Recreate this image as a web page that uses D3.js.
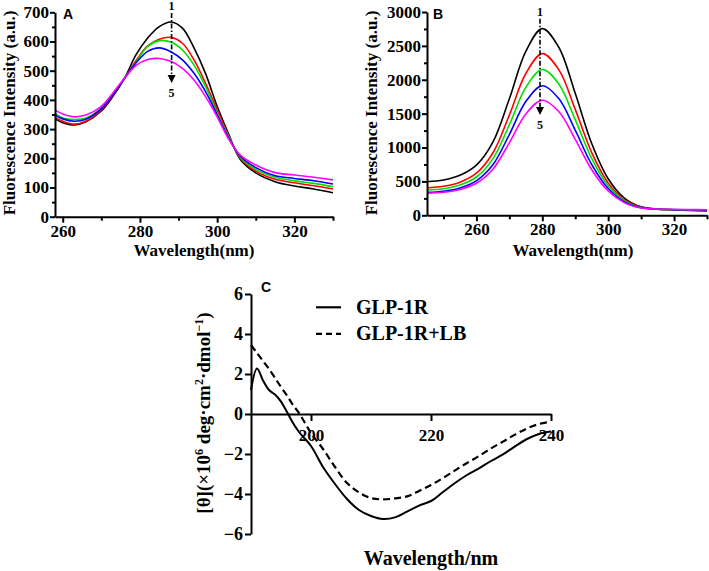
<!DOCTYPE html>
<html><head><meta charset="utf-8">
<script src="https://cdn.jsdelivr.net/npm/d3@7"></script>
<style>body{margin:0;background:#fff}svg{display:block}</style>
</head><body>
<svg id="chart" width="709" height="571"></svg>
<script>
// ---------- Panel A data ----------
const waveA = [258,260,263,266,270,273,276,279,282,285,288,291,294,297,300,303,306,310,315,320,325,330];
const a1 = [335,322,314,325,362,412,474,555,612,651,667,646,578,490,378,282,196,150,120,105,95,82];
const a2 = [340,327,317,327,366,416,474,535,585,608,614,594,537,457,366,277,200,156,128,116,106,95];
const a3 = [355,338,333,338,372,420,474,530,583,603,598,571,519,445,355,273,204,162,135,123,114,103];
const a4 = [348,335,327,334,370,418,474,527,566,578,565,537,491,428,349,269,207,168,140,131,123,112];
const a5 = [365,352,342,348,378,424,474,518,538,542,532,508,468,411,342,265,211,177,151,143,135,126];
const xTicksA = [260,280,300,320];
const xMinorA = [270,290,310,330];
const yTicksA = [0,100,200,300,400,500,600,700];
const yMinorA = [50,150,250,350,450,550,650];

// ---------- Panel B data ----------
const waveB = [245,250,255,260,265,270,275,280,285,290,295,300,305,310,315,320,325,330];
const b1 = [496,520,590,740,1080,1720,2420,2755,2480,1800,1060,540,250,125,92,80,72,66];
const b2 = [407,428,489,621,919,1479,2092,2386,2149,1563,925,477,227,119,91,82,78,75];
const b3 = [373,392,447,565,833,1336,1887,2151,1938,1411,839,436,212,115,90,83,80,78];
const b4 = [339,356,404,509,745,1191,1678,1911,1722,1256,750,395,196,111,90,84,82,80];
const b5 = [325,340,382,473,680,1069,1495,1698,1532,1121,673,358,183,107,92,86,84,82];
const xTicksB = [260,280,300,320];
const xMinorB = [250,270,290,310,330];
const yTicksB = [0,500,1000,1500,2000,2500,3000];
const yMinorB = [250,750,1250,1750,2250,2750];

// ---------- Panel C data ----------
const waveC = [190,191,192,193,194,195,196,197,198,200,202,204,206,208,210,212,214,216,218,220,222,224,226,228,230,232,234,236,238,240];
const glp1r = [1.2,2.28,1.68,1.2,0.97,0.62,0.1,-0.45,-0.9,-1.6,-2.65,-3.5,-4.25,-4.8,-5.1,-5.25,-5.17,-4.88,-4.58,-4.35,-3.9,-3.45,-3.05,-2.72,-2.35,-2.02,-1.62,-1.25,-1.0,-0.88];
const glp1rLB = [3.45,3.05,2.65,2.25,1.8,1.35,0.92,0.45,0.05,-0.95,-1.75,-2.65,-3.45,-3.92,-4.2,-4.27,-4.22,-4.12,-3.85,-3.55,-3.2,-2.82,-2.45,-2.1,-1.72,-1.38,-1.03,-0.72,-0.5,-0.38];
const xTicksC = [200,220,240];
const yTicksC = [-6,-4,-2,0,2,4,6];
const legendC = ["GLP-1R","GLP-1R+LB"];

const colors = ["#000000","#ff0000","#00e000","#0000ff","#ff00ff"];

// ---------- drawing ----------
const svg = d3.select("#chart");
const serif = "'Liberation Serif','Times New Roman',serif";
const sans = "'Liberation Sans',Arial,sans-serif";

function styleAxis(g, fs){
  g.attr("font-family",null).attr("font-size",null);
  g.selectAll("path.domain").attr("stroke","#000").attr("stroke-width",2);
  g.selectAll(".tick line").attr("stroke","#000").attr("stroke-width",2);
  g.selectAll("text").style("font-family",serif).style("font-weight","bold")
    .style("font-size",fs+"px").attr("fill","#000");
}

function fluorPanel(opt){
  const {x, y, wave, series, xt, xm, yt, ym, letter, letterX, arrow, titleCx, ytitleX} = opt;
  const g = svg.append("g");
  const line = d3.line().x((d,i)=>x(wave[i])).y(d=>y(d)).curve(d3.curveCatmullRom.alpha(0.5));
  series.forEach((s,i)=>{
    g.append("path").datum(s).attr("d",line).attr("fill","none")
      .attr("stroke",colors[i]).attr("stroke-width",1.6);
  });
  const y0 = y.range()[0];
  const x0 = x.range()[0];
  const gx = g.append("g").attr("transform",`translate(0,${y0})`)
    .call(d3.axisBottom(x).tickValues(xt).tickSize(6).tickSizeOuter(0).tickPadding(2).tickFormat(d3.format("d")));
  styleAxis(gx,17);
  const gxm = g.append("g").attr("transform",`translate(0,${y0})`)
    .call(d3.axisBottom(x).tickValues(xm).tickSize(4).tickSizeOuter(0).tickFormat(""));
  gxm.select("path.domain").remove();
  styleAxis(gxm,17);
  const gy = g.append("g").attr("transform",`translate(${x0},0)`)
    .call(d3.axisLeft(y).tickValues(yt).tickSize(5).tickSizeOuter(0).tickPadding(1).tickFormat(d3.format("d")));
  styleAxis(gy,17);
  const gym = g.append("g").attr("transform",`translate(${x0},0)`)
    .call(d3.axisLeft(y).tickValues(ym).tickSize(3).tickSizeOuter(0).tickFormat(""));
  gym.select("path.domain").remove();
  styleAxis(gym,17);
  g.append("text").attr("x",titleCx).attr("y",256).attr("text-anchor","middle")
    .style("font-family",serif).style("font-weight","bold").style("font-size","17px").text("Wavelength(nm)");
  g.append("text").attr("transform",`translate(${ytitleX},113) rotate(-90)`).attr("text-anchor","middle")
    .style("font-family",serif).style("font-weight","bold").style("font-size","17px").text("Fluorescence Intensity (a.u.)");
  g.append("text").attr("x",letterX).attr("y",18.5).style("font-family",sans).style("font-weight","bold")
    .style("font-size","14px").text(letter);
  const ax = x(arrow.nm), yTop = y(arrow.from), yTip = y(arrow.to);
  g.append("line").attr("x1",ax).attr("x2",ax).attr("y1",yTop).attr("y2",yTip-6)
    .attr("stroke","#000").attr("stroke-width",1.6).attr("stroke-dasharray","5,2,1.5,2");
  g.append("path").attr("d",`M${ax-4},${yTip-8}L${ax+4},${yTip-8}L${ax},${yTip}Z`).attr("fill","#000");
  g.append("text").attr("x",ax).attr("y",yTop-3).attr("text-anchor","middle")
    .style("font-family",serif).style("font-weight","bold").style("font-size","12px").text("1");
  g.append("text").attr("x",ax).attr("y",yTip+14).attr("text-anchor","middle")
    .style("font-family",serif).style("font-weight","bold").style("font-size","12px").text("5");
}

fluorPanel({
  x: d3.scaleLinear().domain([258,330]).range([55,333]),
  y: d3.scaleLinear().domain([0,700]).range([216.7,12.3]),
  wave: waveA, series: [a1,a2,a3,a4,a5], xt: xTicksA, xm: xMinorA, yt: yTicksA, ym: yMinorA,
  letter: "A", letterX: 63, arrow: {nm: 288.2, from: 698, to: 458}, titleCx: 194, ytitleX: 15
});
fluorPanel({
  x: d3.scaleLinear().domain([245,330]).range([427,707]),
  y: d3.scaleLinear().domain([0,3000]).range([215.3,12]),
  wave: waveB, series: [b1,b2,b3,b4,b5], xt: xTicksB, xm: xMinorB, yt: yTicksB, ym: yMinorB,
  letter: "B", letterX: 433, arrow: {nm: 279.3, from: 2900, to: 1479}, titleCx: 573, ytitleX: 377
});

// ---------- Panel C ----------
(function(){
  const x = d3.scaleLinear().domain([190,240]).range([251,551]);
  const y = d3.scaleLinear().domain([-6,6]).range([534,294]);
  const g = svg.append("g");
  const line = d3.line().x((d,i)=>x(waveC[i])).y(d=>y(d)).curve(d3.curveCatmullRom.alpha(0.5));
  g.append("path").datum(glp1r).attr("d",line).attr("fill","none").attr("stroke","#000").attr("stroke-width",2);
  g.append("path").datum(glp1rLB).attr("d",line).attr("fill","none").attr("stroke","#000")
    .attr("stroke-width",2.2).attr("stroke-dasharray","7,4");
  const gx = g.append("g").attr("transform",`translate(0,${y(0)})`)
    .call(d3.axisBottom(x).tickValues(xTicksC).tickSize(7).tickSizeOuter(0).tickPadding(8).tickFormat(d3.format("d")));
  styleAxis(gx,17);
  const gy = g.append("g").attr("transform",`translate(${x.range()[0]},0)`)
    .call(d3.axisLeft(y).tickValues(yTicksC).tickSize(6).tickSizeOuter(0).tickPadding(2).tickFormat(d3.format("d")));
  styleAxis(gy,18);
  g.append("text").attr("x",431).attr("y",565).attr("text-anchor","middle")
    .style("font-family",serif).style("font-weight","bold").style("font-size","20px").text("Wavelength/nm");
  const yt = g.append("text").attr("transform","translate(210,413) rotate(-90)").attr("text-anchor","middle")
    .style("font-family",serif).style("font-weight","bold").style("font-size","19px");
  const parts = [["[θ](×10",0],["6",-7],[" deg·cm",7],["2",-7],["·dmol",7],["−1",-7],[")",7]];
  parts.forEach(([t,dy])=>{
    yt.append("tspan").attr("dy",dy).style("font-size",(dy<0?12:19)+"px").text(t);
  });
  g.append("text").attr("x",261).attr("y",292).style("font-family",sans).style("font-weight","bold")
    .style("font-size","14px").text("C");
  const lg = g.append("g");
  [0,1].forEach(i=>{
    const ly = 307.3 + i*26.5;
    lg.append("line").attr("x1",316).attr("x2",341).attr("y1",ly).attr("y2",ly)
      .attr("stroke","#000").attr("stroke-width",2.2).attr("stroke-dasharray",i? "6,4":null);
    lg.append("text").attr("x",356).attr("y",ly+6.5).style("font-family",serif).style("font-weight","bold")
      .style("font-size","20px").text(legendC[i]);
  });
})();
</script>
</body></html>
